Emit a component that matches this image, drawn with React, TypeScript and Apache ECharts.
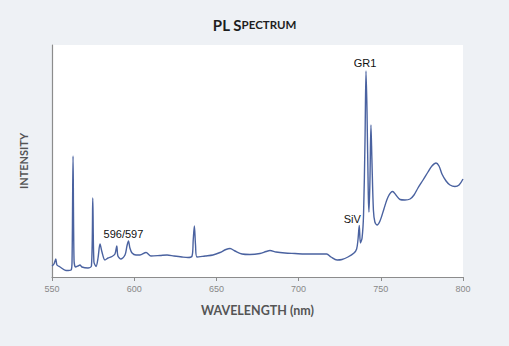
import React, { useEffect, useRef } from "react";
import * as echarts from "echarts";

const wavelengths = [
  550.0, 551.2, 552.3, 553.0, 554.9, 558.5, 561.6, 562.2, 562.8, 563.4, 564.3, 565.8, 567.0, 568.2, 571.9,
  574.0, 574.8, 575.5, 576.8, 578.0, 579.2, 580.4, 582.2, 584.1, 586.5, 588.3, 589.4, 590.1, 592.0, 594.4,
  595.6, 596.5, 597.4, 598.7, 601.1, 603.5, 607.2, 610.2, 615.7, 620.0, 624.2, 629.1, 632.7, 635.2, 635.9,
  636.6, 637.3, 638.2, 643.1, 647.9, 652.2, 655.8, 658.3, 661.3, 665.6, 670.4, 676.5, 680.2, 682.6, 686.3,
  691.7, 697.8, 703.9, 710.0, 717.1, 719.7, 723.4, 726.4, 730.0, 733.7, 735.3, 736.1, 736.9, 737.6, 738.6,
  739.5, 740.4, 741.0, 741.6, 742.4, 742.8, 743.4, 744.0, 744.6, 745.5, 746.4, 747.7, 749.5, 751.9, 754.4,
  757.2, 759.2, 761.7, 764.7, 767.8, 770.2, 772.6, 775.7, 778.7, 781.1, 783.6, 785.4, 787.2, 789.7, 792.1,
  795.1, 797.6, 800.0,
];

const intensity = [
  11, 13, 18, 12, 10, 6.5, 7, 17, 121, 17, 10, 11, 12, 10, 9,
  11, 79, 15, 10.5, 19, 33, 25, 17, 19, 20.5, 23, 31, 21, 18, 22,
  31, 36, 29, 24, 22, 22, 24.5, 21, 21.5, 22, 21, 20, 19.5, 21, 37,
  51, 32, 20, 21, 22, 24.5, 27.5, 28.5, 26, 23, 22.5, 23.5, 25.5, 26.5, 25,
  24, 23.5, 23, 23, 23, 20, 17, 17.5, 20, 24, 28, 37, 51.5, 34, 39,
  62, 137, 206, 167, 82, 65, 97, 152, 117, 67, 55, 52, 56, 68, 80,
  85.5, 82, 77.5, 77, 78, 82, 89, 97, 105, 111, 114, 111, 103, 96, 92,
  90.5, 92, 98,
];

const xTicks = { min: 550, max: 800, interval: 50 };

const annotations = [
  { name: "GR1", coord: [741.0, 206], offset: [-1, -8] },
  { name: "SiV", coord: [736.9, 51.5], offset: [-7, -7] },
  { name: "596/597", coord: [596.5, 36], offset: [-5, -7] },
];

export default function App() {
  const ref = useRef<HTMLDivElement>(null);

  useEffect(() => {
    document.body.style.margin = "0";
    const chart = echarts.init(ref.current!, null, { renderer: "svg" });
    const data = wavelengths.map((w, i) => [w, intensity[i]]);
    chart.setOption({
      animation: false,
      backgroundColor: "#eef1f5",
      title: {
        text: "{a|PL S}{b|PECTRUM}",
        left: "center",
        top: 12,
        textStyle: {
          rich: {
            a: { fontFamily: "Lato", fontWeight: "bold", fontSize: 15, color: "#1e1e1e" },
            b: { fontFamily: "Lato", fontWeight: "bold", fontSize: 11.5, color: "#1e1e1e" },
          },
        },
      },
      grid: {
        left: 52,
        right: 46,
        top: 45,
        bottom: 69,
        show: true,
        backgroundColor: "#ffffff",
        borderWidth: 0,
      },
      xAxis: {
        type: "value",
        min: xTicks.min,
        max: xTicks.max,
        interval: xTicks.interval,
        name: "WAVELENGTH (nm)",
        nameLocation: "middle",
        nameGap: 27,
        nameTextStyle: { fontFamily: "Lato", fontWeight: "bold", fontSize: 12.5, color: "#555" },
        axisLine: { lineStyle: { color: "#8c8c8c", width: 1.2 } },
        axisTick: { show: true, length: 4, lineStyle: { color: "#8c8c8c" } },
        axisLabel: { fontFamily: "Liberation Sans", fontSize: 9, color: "#888", margin: 7 },
        splitLine: { show: false },
      },
      yAxis: {
        type: "value",
        min: 0,
        max: 232,
        name: "INTENSITY",
        nameLocation: "middle",
        nameGap: 23,
        nameTextStyle: { fontFamily: "Lato", fontWeight: "bold", fontSize: 11, color: "#555" },
        axisLine: { show: true, lineStyle: { color: "#8c8c8c", width: 1.2 } },
        axisTick: { show: false },
        axisLabel: { show: false },
        splitLine: { show: false },
      },
      series: [
        {
          type: "line",
          data,
          showSymbol: false,
          smooth: 0.3,
          lineStyle: { color: "#4a62a0", width: 1.4 },
          markPoint: {
            symbol: "circle",
            symbolSize: 0,
            silent: true,
            data: annotations.map((a) => ({
              name: a.name,
              coord: a.coord,
              label: {
                show: true,
                formatter: a.name,
                position: "inside",
                offset: a.offset,
                fontFamily: "Liberation Sans",
                fontSize: 11,
                color: "#111",
              },
            })),
          },
        },
      ],
    });
    return () => chart.dispose();
  }, []);

  return <div ref={ref} style={{ width: 509, height: 346 }} />;
}
